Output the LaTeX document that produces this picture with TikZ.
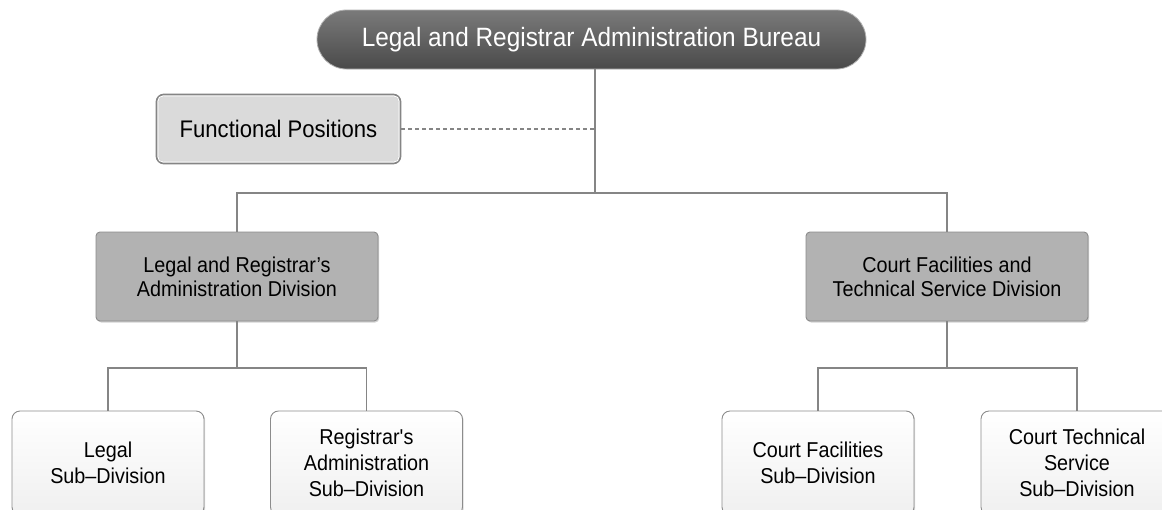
\documentclass[tikz,border=0pt]{standalone}
\usepackage{fontspec}
\setmainfont{Liberation Sans}[FakeStretch=0.92]
\usetikzlibrary{shadows}
\definecolor{linegray}{HTML}{858585}
\definecolor{pilltop}{HTML}{7A7A7A}
\definecolor{pillbot}{HTML}{4A4A4A}
\definecolor{funcfill}{HTML}{DADADA}
\definecolor{divfill}{HTML}{B2B2B2}
\definecolor{boxedge}{HTML}{8C8C8C}
\tikzset{
  conn/.style={draw=linegray, line width=1.6pt},
  dashconn/.style={draw=linegray, line width=1.3pt, dashed, dash pattern=on 4pt off 3pt},
  bureau/.style={rounded corners=29.5pt, minimum width=549pt, minimum height=59pt,
    top color=pilltop, bottom color=pillbot, draw=white!70!black, line width=0.8pt,
    text=white, font=\fontsize{26.5}{30}\selectfont, inner sep=0pt},
  funcbox/.style={rounded corners=7pt, minimum width=243pt, minimum height=68pt,
    fill=funcfill, draw=linegray, line width=2.8pt,
    font=\fontsize{24}{28}\selectfont, inner sep=0pt},
  innerrim/.style={draw=white, line width=1.1pt, rounded corners=5pt},
  divbox/.style={rounded corners=4pt, minimum width=282pt, minimum height=89pt,
    fill=divfill, draw=boxedge, line width=0.9pt, align=center,
    font=\fontsize{21.5}{24}\selectfont, inner sep=0pt,
    drop shadow={shadow xshift=1.2pt, shadow yshift=-1.5pt, opacity=0.35}},
  subbox/.style={rounded corners=8pt, minimum width=192pt, minimum height=104pt,
    top color=white, bottom color=black!6, draw=boxedge, line width=0.9pt, align=center,
    font=\fontsize{21.5}{26}\selectfont, inner sep=0pt,
    drop shadow={shadow xshift=1.2pt, shadow yshift=-1.5pt, opacity=0.3}},
}
\begin{document}
\begin{tikzpicture}[x=1pt, y=-1pt]
  \clip (0,0) rectangle (1162,509);
  \useasboundingbox (0,0) rectangle (1162,509);
  \fill[white] (0,0) rectangle (1162,509);

  % head of the bureau and the staff position beside it
  \node[bureau] (bureau) at (591.5,39.5) {Legal and Registrar Administration Bureau};
  \node[funcbox] (func) at (278.5,129) {Functional Positions};
  \draw[innerrim] ([shift={(2.4,2.4)}]func.north west) rectangle ([shift={(-2.4,-2.4)}]func.south east);

  % divisions
  \node[divbox] (divL) at (237,276.5) {Legal and Registrar’s\\Administration Division};
  \node[divbox] (divR) at (947,276.5) {Court Facilities and\\Technical Service Division};

  % sub-divisions
  \node[subbox] (subL1) at (108,463) {Legal\\Sub--Division};
  \node[subbox] (subL2) at (366.5,463) {Registrar\textquotesingle s\\Administration\\Sub--Division};
  \node[subbox] (subR1) at (818,463) {Court Facilities\\Sub--Division};
  \node[subbox] (subR2) at (1077,463) {Court Technical\\Service\\Sub--Division};

  % branching points
  \coordinate (hub) at (595,193);
  \coordinate (hubL) at (237,368);
  \coordinate (hubR) at (947,368);

  % bureau to divisions
  \draw[conn] (bureau.south -| hub) -- (hub);
  \draw[conn] (divL.north) |- (hub) -| (divR.north);
  \draw[dashconn] (func.east) -- (func.east -| hub);

  % divisions to sub-divisions
  \draw[conn] (divL.south) -- (hubL);
  \draw[conn] (subL1.north) |- (hubL) -| (subL2.north);
  \draw[conn] (divR.south) -- (hubR);
  \draw[conn] (subR1.north) |- (hubR) -| (subR2.north);
\end{tikzpicture}
\end{document}
